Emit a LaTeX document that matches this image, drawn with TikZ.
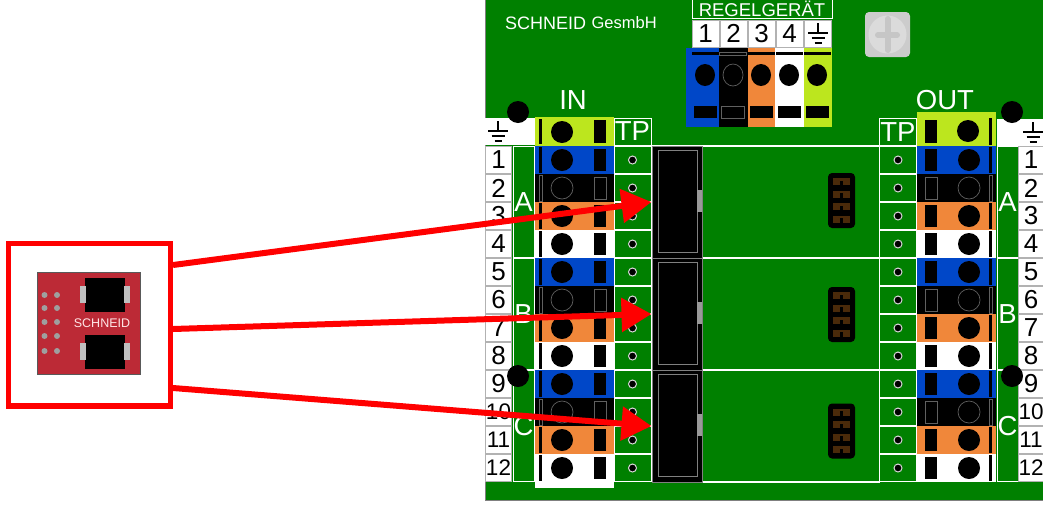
\documentclass[tikz,border=0pt]{standalone}
\usepackage{fontspec}
\setmainfont{Liberation Sans}
\usetikzlibrary{arrows.meta, positioning}
\definecolor{pcbgreen}{HTML}{008000}
\definecolor{pcbred}{HTML}{BC2A36}
\definecolor{termblue}{HTML}{0047C8}
\definecolor{termorange}{HTML}{F0873A}
\definecolor{termlime}{HTML}{BCE61E}
\definecolor{padbrown}{HTML}{4A2A0A}

\begin{document}
\begin{tikzpicture}[
    x=1pt, y=-1pt,
    cell/.style={rectangle, draw=gray!60, fill=white, line width=0.7pt, inner sep=0pt, font=\fontsize{26}{26}\selectfont},
    outlined/.style={rectangle, draw=white, line width=1pt, inner sep=0pt, text=white, font=\fontsize{27.5}{27.5}\selectfont},
    term/.style={rectangle, inner sep=0pt, minimum width=79pt, minimum height=28pt},
    label/.style={text=white, inner sep=0pt, font=\fontsize{27.5}{27.5}\selectfont},
    metal/.style={fill=black},
    ghost/.style={fill=black, draw=gray!75!black, line width=0.7pt},
    header/.style={rectangle, fill=black, draw=gray, line width=1pt, inner sep=0pt, minimum width=50pt, minimum height=112pt},
    jumper/.style={rectangle, rounded corners=4pt, fill=black, inner sep=0pt, minimum width=27pt, minimum height=55pt},
    hole/.style={circle, fill=black, inner sep=0pt, minimum size=22pt},
    arrow/.style={-{Triangle[length=30pt, width=33pt]}, red, line width=6pt},
    gnd/.pic={
        \draw[line width=1.6pt] (0,0) -- (0,10);
        \draw[line width=1.8pt] (-10,10) -- (10,10);
        \draw[line width=1.8pt] (-6.5,15) -- (6.5,15);
        \draw[line width=2.2pt] (-3.5,20) -- (3.5,20);
    }
]
\useasboundingbox (0,0) rectangle (1043,507);

% board
\fill[gray] (485,0) rectangle (1043,501);
\fill[pcbgreen] (486,0) rectangle (1043,500);

\node[text=white, inner sep=0pt, anchor=west, font=\fontsize{18}{18}\selectfont] (maker) at (505,23) {SCHNEID};
\node[text=white, inner sep=0pt, right=5pt of maker, font=\fontsize{16.5}{18}\selectfont] (makersub) {GesmbH};

% controller terminal
\node[outlined, minimum width=140pt, minimum height=19pt, font=\fontsize{18.5}{18.5}\selectfont] (regel) at (762,9) {REGELGERÄT};
\foreach \x/\t in {705.5/1, 733.5/2, 761.5/3, 789.5/4}
    \node[cell, minimum width=27pt, minimum height=27pt] (regel\t) at (\x,33.5) {\t};
\node[cell, minimum width=27pt, minimum height=27pt] (regelgnd) at (817.5,33.5) {};
\pic at (818,23) {gnd};
\foreach \x/\w/\cx/\c/\k in {702.5/33/705/termblue/metal, 733.5/29/733/black/ghost, 761.5/27/761/termorange/metal, 789.5/29/789/white/metal, 818/28/817/termlime/metal} {
    \node[rectangle, fill=\c, inner sep=0pt, minimum width=\w pt, minimum height=79pt] (ctrl\cx) at (\x,87.5) {};
    \path[\k] ({\cx-13.5},52) rectangle ({\cx+13.5},55);
    \path[\k] (\cx,75) ellipse [x radius=10, y radius=11];
    \path[\k] ({\cx-11.5},106) rectangle ({\cx+11.5},118);
}

% screw
\node[rectangle, rounded corners=4pt, fill=gray!40, inner sep=0pt, minimum size=45pt] (screw) at (887.5,34.5) {};
\fill[gray!28] (screw.center) circle (19);
\draw[gray!45, line width=6pt, line cap=round] (887.5,19) -- (887.5,50);
\draw[gray!45, line width=6pt, line cap=round] (878,35) -- (897,35);

% traces between the TP columns
\foreach \y in {146,258,370,482}
    \draw[white, line width=1.5pt] (652,\y) -- (880,\y);

% headers and jumpers
\foreach \y/\g in {202/A, 314/B, 426/C} {
    \node[header] (header\g) at (677,\y) {};
    \draw[gray, line width=1pt] (658,{\y-52}) rectangle (697,{\y+50});
    \fill[gray!80] (697,{\y-12}) rectangle (702,{\y+10});
}
\foreach \y/\g in {200.5/A, 314.5/B, 431/C} {
    \node[jumper] (jumper\g) at (841.5,\y) {};
    \foreach \d in {-19,-6.5,6,18.5} {
        \fill[padbrown] (833,{\y+\d-3.5}) rectangle (840,{\y+\d+3.5});
        \fill[padbrown] (843,{\y+\d-3.5}) rectangle (850,{\y+\d+3.5});
        \fill[padbrown] (839,{\y+\d-3.5}) rectangle (844,{\y+\d-1});
    }
}

% left and right rows
\foreach \cx/\sg/\s/\tpx/\abcx/\numx in {574.5/1/L/632.5/523.5/498.5, 956.5/-1/R/898/1007.5/1031} {
    \foreach \g/\gl in {0/A, 1/B, 2/C} {
        \node[outlined, minimum width=21pt, minimum height=111pt] (strip\s\gl) at (\abcx,{202+112*\g}) {\gl};
        \foreach \i/\c/\k in {1/termblue/metal, 2/black/ghost, 3/termorange/metal, 4/white/metal} {
            \pgfmathtruncatemacro{\n}{4*\g+\i}
            \pgfmathsetmacro{\y}{132+28*\n}
            \pgfmathsetmacro{\fs}{\n>9 ? 22.5 : 26}
            \node[cell, minimum width=26pt, minimum height=27pt, font=\fontsize{\fs}{\fs}\selectfont] (num\s\n) at (\numx,\y) {\n};
            \node[term, fill=\c] (term\s\n) at (\cx,\y) {};
            \path[\k] ({\cx-\sg*35.5},{\y-13}) rectangle ({\cx-\sg*32.5},{\y+13});
            \path[\k] ({\cx-\sg*12.5},\y) circle (11);
            \path[\k] ({\cx+\sg*19.5},{\y-11}) rectangle ({\cx+\sg*31.5},{\y+11});
            \node[outlined, minimum width=37pt, minimum height=27pt] (tp\s\n) at (\tpx,\y) {};
            \node[circle, fill=black, draw=gray!30, line width=1pt, inner sep=0pt, minimum size=8pt] (tpdot\s\n) at (\tpx,\y) {};
        }
    }
}
\fill[white] (535,482) rectangle (614,488);

% ground rows
\node[rectangle, fill=termlime, inner sep=0pt, minimum width=79pt, minimum height=29pt] (termLgnd) at (574.5,131.5) {};
\node[rectangle, fill=termlime, inner sep=0pt, minimum width=79pt, minimum height=34pt] (termRgnd) at (956.5,129) {};
\fill (539,119) rectangle (542,144);
\fill (562,132) circle (11);
\fill (594,120) rectangle (606,143);
\fill (925,120) rectangle (937,143);
\fill (968,131) circle (11);
\fill (989,118) rectangle (992,145);
\node[cell, draw=none, minimum width=50pt, minimum height=27pt] (gndL) at (510,131.5) {};
\node[cell, draw=none, minimum width=46pt, minimum height=27pt] (gndR) at (1020,132) {};
\pic at (498,121) {gnd};
\pic at (1033,122) {gnd};
\node[outlined, minimum width=37pt, minimum height=27pt] (tpheadL) at (632.5,131.5) {TP};
\node[outlined, minimum width=37pt, minimum height=27pt] (tpheadR) at (898,132) {TP};
\node[label] (in) at (573,100) {IN};
\node[label] (out) at (945,100) {OUT};

% mounting holes
\foreach \x/\y/\h in {518/112/a, 518/376/b, 1012/112/c, 1012/376/d}
    \node[hole] (mount\h) at (\x,\y) {};

% module
\node[rectangle, draw=red, line width=5.5pt, fill=white, minimum width=162pt, minimum height=162.5pt, inner sep=0pt] (frame) at (89.5,324.75) {};
\node[rectangle, fill=pcbred, draw=gray!70!black, line width=0.5pt, inner sep=0pt, minimum width=103pt, minimum height=102pt] (module) at (88.5,323) {};
\foreach \y in {278,335} {
    \fill (85,\y) rectangle (125,{\y+34});
    \fill[gray!50] (80,{\y+8}) rectangle (86,{\y+25});
    \fill[gray!50] (124,{\y+8}) rectangle (130,{\y+25});
}
\foreach \y in {295,308,322,336,351}
    \foreach \x in {44.5,57}
        \fill[gray!75] (\x,\y) circle (3);
\node[text=red!10, inner sep=0pt, font=\fontsize{12.5}{12.5}\selectfont] (modulename) at (102,323) {SCHNEID};

% arrows
\coordinate (fromA) at (173,265);
\coordinate (fromB) at (173,329);
\coordinate (fromC) at (173,388);
\draw[arrow] (fromA) -- (headerA.west);
\draw[arrow] (fromB) -- (headerB.west);
\draw[arrow] (fromC) -- (headerC.west);

\end{tikzpicture}
\end{document}
